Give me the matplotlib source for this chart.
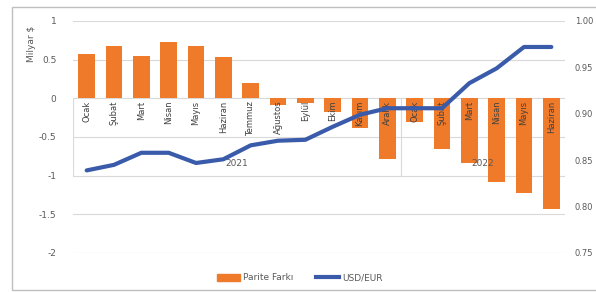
import matplotlib
matplotlib.use("Agg")
import matplotlib.pyplot as plt
from matplotlib.patches import Rectangle, Patch
from matplotlib.lines import Line2D

months = ["Ocak", "Şubat", "Mart", "Nisan", "Mayıs", "Haziran", "Temmuz", "Ağustos",
          "Eylül", "Ekim", "Kasım", "Aralık", "Ocak", "Şubat", "Mart", "Nisan", "Mayıs", "Haziran"]
years = ["2021", "2022"]
year_counts = [12, 6]
parite_farki = [0.57, 0.68, 0.55, 0.73, 0.68, 0.53, 0.20, -0.08, -0.06, -0.18, -0.38, -0.78,
                -0.30, -0.66, -0.83, -1.08, -1.22, -1.43]
usd_eur = [0.839, 0.845, 0.858, 0.858, 0.847, 0.851, 0.866, 0.871, 0.872, 0.886, 0.899, 0.906,
           0.906, 0.906, 0.933, 0.949, 0.972, 0.972]
left_ticks = [1, 0.5, 0, -0.5, -1, -1.5, -2]
right_ticks = [1.00, 0.95, 0.90, 0.85, 0.80, 0.75]

W, H = 596, 292
fig = plt.figure(figsize=(W / 100, H / 100), dpi=100)
fig.patch.set_facecolor("white")
ax = fig.add_axes([73 / W, 1 - 253 / H, (565 - 73) / W, (253 - 21) / H])

txt = "#595959"
grid = "#d9d9d9"
orange = "#EF7A2A"
blue = "#3A5BAA"

x = list(range(len(months)))
ax.set_xlim(-0.5, len(months) - 0.5)
ax.set_ylim(-2, 1)
for t in left_ticks:
    ax.axhline(t, color=grid, lw=0.8, zorder=0)
ax.bar(x, parite_farki, width=0.62, color=orange, zorder=2)
ax.set_yticks(left_ticks)
ax.set_yticklabels([f"{t:g}" for t in left_ticks])
ax.tick_params(axis="y", length=0, pad=12, labelsize=6.5, labelcolor=txt)
ax.set_xticks([])
for s in ax.spines.values():
    s.set_visible(False)

# category labels (multi-level axis at zero)
for i, m in enumerate(months):
    ax.text(i, -0.03, m, rotation=90, ha="center", va="top", fontsize=6, color="#404040", zorder=3)
start = 0
for yname, cnt in zip(years, year_counts):
    ax.text(start + (cnt - 1) / 2, -0.84, yname, ha="center", va="center", fontsize=6.5, color=txt, zorder=3)
    ax.plot([start - 0.5, start - 0.5], [0, -1], color=grid, lw=0.8, zorder=1)
    start += cnt
ax.plot([start - 0.5, start - 0.5], [0, -1], color=grid, lw=0.8, zorder=1)

ax2 = ax.twinx()
ax2.set_ylim(0.75, 1.00)
ax2.plot(x, usd_eur, color=blue, lw=3.0, zorder=4, solid_capstyle="round")
ax2.set_yticks(right_ticks)
ax2.set_yticklabels([f"{t:.2f}" for t in right_ticks])
ax2.tick_params(axis="y", length=0, pad=7, labelsize=6, labelcolor=txt)
for s in ax2.spines.values():
    s.set_visible(False)

fig.text(32 / W, 1 - 44 / H, "Milyar $", rotation=90, ha="center", va="center", fontsize=6.5, color=txt)

handles = [Patch(color=orange), Line2D([0], [0], color=blue, lw=3.0)]
fig.legend(handles, ["Parite Farkı", "USD/EUR"], loc="center", bbox_to_anchor=(300 / W, 1 - 278 / H),
           ncol=2, frameon=False, fontsize=6.5, labelcolor=txt, handlelength=2.5, columnspacing=2.5,
           handletextpad=0.4)

fig.patches.append(Rectangle((12 / W, 2 / H), 1.0, 1 - 9 / H, transform=fig.transFigure,
                             fill=False, edgecolor="#bfbfbf", lw=1.0))

fig.savefig("out.png", dpi=100)
